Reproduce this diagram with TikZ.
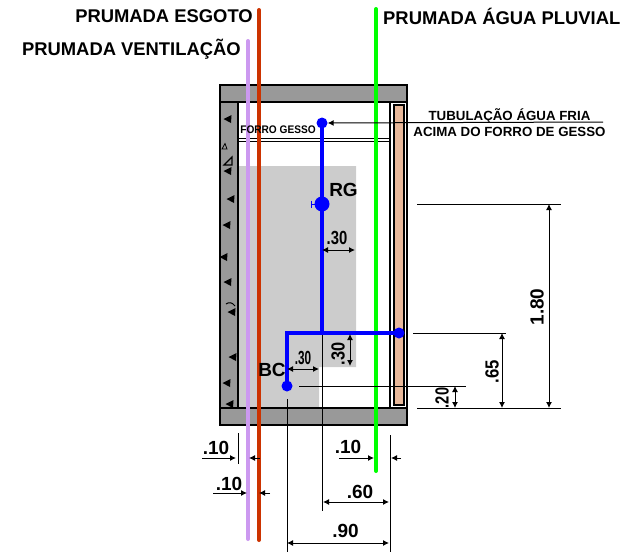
\documentclass[tikz,border=0pt]{standalone}
\usepackage{fontspec}
\setmainfont{Liberation Sans}
\usetikzlibrary{arrows.meta}
\definecolor{slab}{RGB}{153,153,153}
\definecolor{wetarea}{RGB}{204,204,204}
\definecolor{pinkwall}{RGB}{232,184,154}
\definecolor{vent}{RGB}{204,153,240}
\definecolor{esg}{RGB}{204,51,0}
\definecolor{pluv}{RGB}{0,255,0}
\definecolor{pipe}{RGB}{0,0,255}
\tikzset{
  wall/.style={draw=black,line width=1.8pt},
  thin line/.style={draw=black,line width=1pt},
  dim/.style={draw=black,line width=1pt,{Latex[length=6pt,width=6pt]}-{Latex[length=6pt,width=6pt]}},
  arr/.style={draw=black,line width=1pt,-{Latex[length=6pt,width=6pt]}},
  riser/.style={line width=4pt,line cap=round},
  bluepipe/.style={draw=pipe,line width=3.5pt},
  dot/.style={circle,fill=pipe,inner sep=0pt,minimum size=#1},
  title/.style={font=\fontsize{18.4}{20}\selectfont\bfseries,inner sep=0pt},
  lab/.style={font=\fontsize{19}{21}\selectfont\bfseries,inner sep=0pt},
  small/.style={font=\fontsize{13.3}{15}\selectfont\bfseries,inner sep=0pt}
}
\begin{document}
\begin{tikzpicture}[x=1pt,y=-1pt]
\useasboundingbox (0,0) rectangle (630,552);
% wet area
\fill[wetarea] (238,166) -- (356,166) -- (356,367) -- (319,367) -- (319,408) -- (238,408) -- cycle;
% left wall
\draw[wall,fill=slab] (220,102) rectangle (238,408);
% right wall
\draw[wall] (390,102) rectangle (407,408);
\draw[wall,fill=pinkwall] (394,105) rectangle (404,405);
% slabs
\draw[wall,fill=slab] (220,85) rectangle (407,102);
\draw[wall,fill=slab] (220,408) rectangle (407,425);
% ceiling
\draw[thin line] (238,138) -- (390,138);
\draw[thin line] (238,141) -- (390,141);
% aggregate marks
\foreach \px/\py in {228/119,228/171,231/199,227/225,224/257,228/282,232/312,233/357,227/383,230/404}{
  \fill[black] (\px-4.5,\py) -- (\px+3.5,\py-4) -- (\px+3,\py+4) -- cycle;
}
\draw[black,fill=slab,line width=0.8pt] (222,149) -- (225,143.5) -- (227,149) -- cycle;
\draw[black,fill=slab,line width=1.2pt] (224,165) -- (232,157) -- (232,165) -- cycle;
\draw[black,line width=1pt] (226,304) .. controls (229,302) and (232,302) .. (235,306);
% risers
\draw[vent,riser] (248,41) -- (248,539);
\draw[esg,riser] (259,10) -- (259,540);
\draw[pluv,riser] (376,9) -- (376,471);
% extension lines
\draw[thin line] (322,333) -- (322,511);
\draw[thin line] (287,399) -- (287,552);
\draw[thin line] (299,386) -- (466,386);
\draw[thin line] (417,204) -- (561,204);
\draw[thin line] (413,333) -- (506,333);
\draw[thin line] (417,408) -- (561,408);
\draw[thin line] (238,433) -- (238,464);
\draw[thin line] (390,435) -- (390,552);
% blue pipes
\node[dot=11pt] (rgtop) at (322,123) {};
\node[dot=15pt] (rg) at (322,204) {};
\node[dot=11pt] (wallpt) at (399,333) {};
\node[dot=11pt] (bc) at (287,386) {};
\coordinate (jn) at (322,333);
\coordinate (cn) at (287,333);
\draw[bluepipe] (rgtop.center) -- (rg.center) -- (jn);
\draw[bluepipe,line cap=round] (wallpt.center) -- (cn) -- (bc.center);
\draw[draw=pipe,line width=1pt] (311,200.5) -- (311,207.5) (311,204) -- (316,204);
% callout
\coordinate (callend) at (603,122);
\draw[arr] (callend) -- (rgtop);
% dimensions
\draw[dim] (322,250) -- (355,250);
\draw[dim] (350,334) -- (350,366);
\draw[dim] (287,369) -- (319,369);
\draw[dim] (549,204) -- (549,408);
\draw[dim] (502,333) -- (502,408);
\draw[dim] (455,386) -- (455,408);
\draw[dim] (323,502) -- (389,502);
\draw[dim] (287,543) -- (389,543);
\draw[arr] (202,458) -- (236,458);
\draw[arr] (260,458) -- (249,458);
\draw[arr] (213,493) -- (247,493);
\draw[arr] (270,493) -- (259,493);
\draw[arr] (339,458) -- (374,458);
\draw[arr] (401,458) -- (391,458);
% texts
\node[title,anchor=east] (t1) at (253,16) {PRUMADA ESGOTO};
\node[title,anchor=west] (t2) at (383,16) {PRUMADA ÁGUA PLUVIAL};
\node[title,anchor=east] (t3) at (241,49.5) {PRUMADA VENTILAÇÃO};
\node[small,anchor=center] (t4) at (509.5,116) {TUBULAÇÃO ÁGUA FRIA};
\node[small,anchor=center] (t5) at (509.5,131.5) {ACIMA DO FORRO DE GESSO};
\node[font=\fontsize{11}{12}\selectfont\bfseries,inner sep=0pt,xscale=0.92,anchor=center] (t6) at (278,130) {FORRO GESSO};
\node[lab] (rglab) at (343.5,190) {RG};
\node[lab] (bclab) at (272,370) {BC};
\node[lab,xscale=0.78] (d1) at (337,238) {.30};
\node[lab,rotate=90,xscale=0.86] (d2) at (338,354) {.30};
\node[lab,xscale=0.62] (d3) at (303,358) {.30};
\node[lab,rotate=90] (d4) at (537,307) {1.80};
\node[lab,rotate=90,xscale=0.88] (d5) at (492,372) {.65};
\node[lab,rotate=90,xscale=0.77] (d6) at (442,398) {.20};
\node[lab] (d7) at (216,448) {.10};
\node[lab] (d8) at (229,484) {.10};
\node[lab] (d9) at (348,447) {.10};
\node[lab] (d10) at (360,492) {.60};
\node[lab] (d11) at (345.5,531) {.90};
\end{tikzpicture}
\end{document}
